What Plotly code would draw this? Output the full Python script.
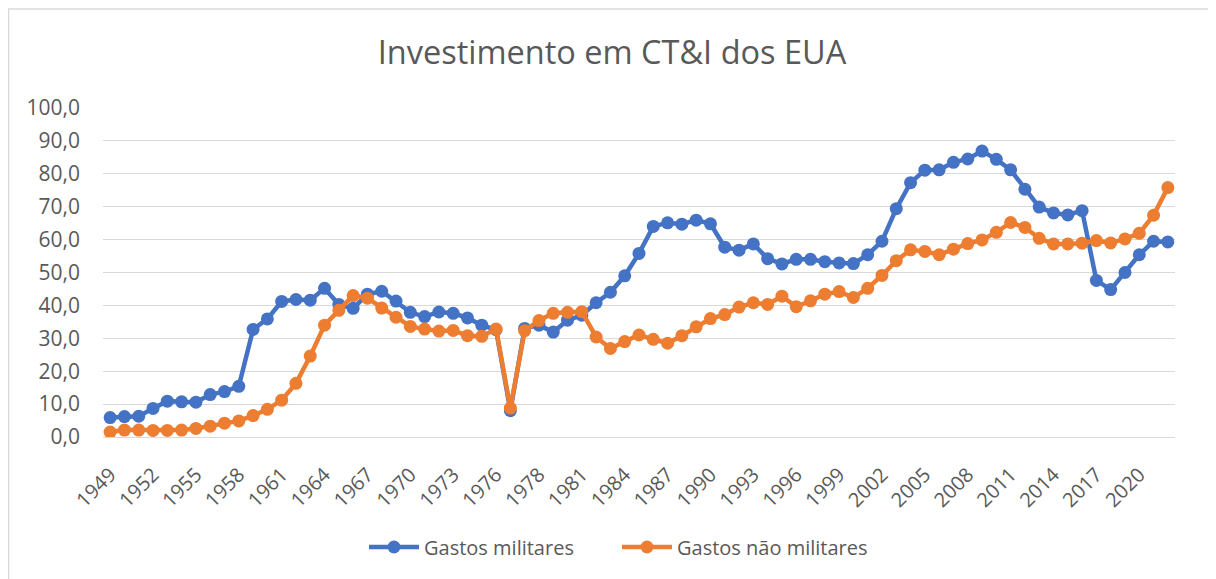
import plotly.graph_objects as go

years = [str(y) for y in range(1949, 1977)] + ["TQ"] + [str(y) for y in range(1977, 2023)]

militares = [5.9, 6.2, 6.3, 8.7, 10.9, 10.7, 10.6, 12.9, 13.8, 15.4,
             32.7, 35.9, 41.2, 41.8, 41.6, 45.2, 40.3, 39.1, 43.4, 44.3,
             41.3, 37.9, 36.6, 38.0, 37.6, 36.2, 34.0, 32.6, 8.0, 33.0,
             34.0, 31.9, 35.5, 37.0, 40.8, 44.0, 49.0, 55.8, 64.0, 65.1,
             64.7, 65.9, 64.8, 57.7, 56.8, 58.7, 54.2, 52.6, 54.0, 54.0,
             53.3, 52.9, 52.7, 55.4, 59.5, 69.4, 77.3, 81.1, 81.2, 83.5,
             84.5, 86.9, 84.4, 81.2, 75.3, 69.9, 68.1, 67.5, 68.8, 47.6,
             44.8, 50.0, 55.4, 59.5, 59.3]

nao_militares = [1.5, 2.1, 2.1, 2.0, 2.0, 2.1, 2.6, 3.3, 4.2, 4.9,
                 6.5, 8.4, 11.2, 16.3, 24.6, 34.0, 38.5, 43.0, 42.2, 39.2,
                 36.4, 33.6, 32.8, 32.2, 32.4, 30.8, 30.6, 32.8, 8.8, 32.3,
                 35.4, 37.6, 37.9, 38.1, 30.4, 26.9, 29.0, 31.0, 29.7, 28.5,
                 30.8, 33.5, 36.0, 37.2, 39.5, 40.8, 40.3, 42.8, 39.6, 41.4,
                 43.4, 44.2, 42.4, 45.2, 49.1, 53.6, 56.9, 56.4, 55.4, 57.1,
                 58.8, 59.9, 62.2, 65.2, 63.7, 60.4, 58.7, 58.7, 58.9, 59.7,
                 59.0, 60.2, 61.9, 67.4, 75.8]

tick_labels = years[::3]

BLUE = "#4472C4"
ORANGE = "#ED7D31"
GREY_TXT = "#595959"
FONT = "Open Sans"

fig = go.Figure()
fig.add_trace(go.Scatter(x=years, y=militares, name="Gastos militares",
                         mode="lines+markers",
                         line=dict(color=BLUE, width=4.5),
                         marker=dict(color=BLUE, size=13)))
fig.add_trace(go.Scatter(x=years, y=nao_militares, name="Gastos não militares",
                         mode="lines+markers",
                         line=dict(color=ORANGE, width=4.5),
                         marker=dict(color=ORANGE, size=13)))

# page body adds an 8px offset; figure coordinates = screen - 8
OFF = 8
W, H = 1216 - OFF, 579 - OFF
L, T = 103 - OFF, 108 - OFF
R = W - (1175 - OFF)
B = H - (437 - OFF)
pw = W - L - R
ph = H - T - B
y0px = 437 - OFF

fig.update_layout(
    width=W, height=H, autosize=False,
    margin=dict(l=L, r=R, t=T, b=B, autoexpand=False),
    paper_bgcolor="white", plot_bgcolor="white",
    separators=", ",
    font=dict(family=FONT, color=GREY_TXT, size=20),
    title=dict(text="Investimento em CT&I dos EUA", x=(612 - OFF) / W, xanchor="center",
               xref="container", yref="container", y=1 - (53 - OFF) / H, yanchor="middle",
               font=dict(family=FONT, size=32.5, color=GREY_TXT)),
    showlegend=True,
    legend=dict(orientation="h", x=(617 - 103) / pw, xanchor="center", xref="paper",
                y=(437 - 547) / ph, yanchor="middle", yref="paper",
                font=dict(family=FONT, size=20, color=GREY_TXT),
                traceorder="normal", itemwidth=50,
                entrywidth=188, entrywidthmode="pixels"),
    xaxis=dict(type="category", categoryorder="array", categoryarray=years,
               range=[-0.5, len(years) - 0.5], automargin=False,
               tickmode="array", tickvals=tick_labels, ticktext=tick_labels,
               tickangle=-45, showgrid=False, zeroline=False,
               showline=True, linecolor="#D9D9D9", linewidth=1,
               ticks="", ticklabelstandoff=17,
               tickfont=dict(family=FONT, size=20, color=GREY_TXT)),
    yaxis=dict(range=[0, 100], tickmode="array", automargin=False,
               tickvals=[0, 10, 20, 30, 40, 50, 60, 70, 80, 90, 100],
               tickformat=".1f", showgrid=True, gridcolor="#D9D9D9", gridwidth=1,
               zeroline=False, showline=False, ticks="",
               ticklabelstandoff=22,
               tickfont=dict(family=FONT, size=21, color=GREY_TXT)),
    shapes=[dict(type="rect", xref="paper", yref="paper",
                 x0=(0.5 - L) / pw, x1=(W + 30 - L) / pw,
                 y0=(y0px - H - 30) / ph, y1=(y0px - 1) / ph,
                 line=dict(color="#D9D9D9", width=1.5), layer="below")],
)

fig.write_html("out.html")
